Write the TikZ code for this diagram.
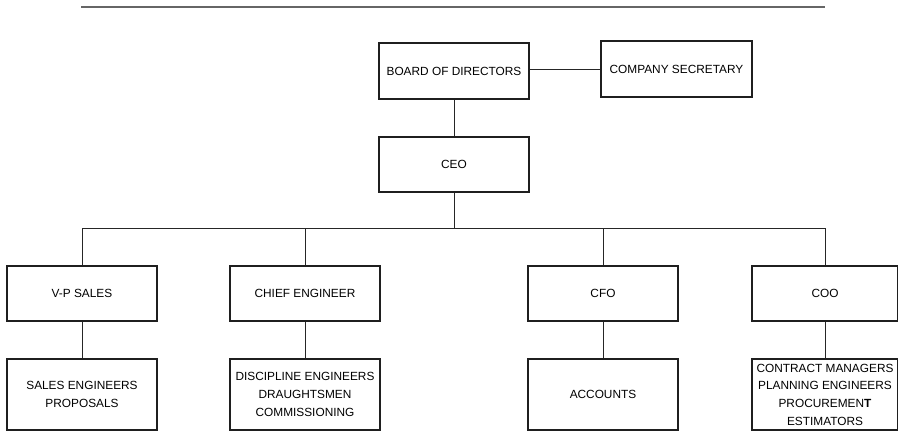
\documentclass[tikz,border=0pt]{standalone}
\usepackage{fontspec}
\setmainfont{Liberation Sans}
\begin{document}
\begin{tikzpicture}[x=1pt,y=-1pt,
  box/.style={draw=black!88, line width=2.4pt, minimum width=150pt, inner sep=0pt,
    align=center, font=\fontsize{11.85}{17.7}\selectfont},
  link/.style={line width=0.9pt, draw=black!85},
  rule/.style={line width=2pt, draw=black!60}]
\useasboundingbox (0,0) rectangle (898,432);
\coordinate (rl) at (81,7);
\coordinate (rr) at (825,7);
\draw[rule] (rl) -- (rr);
\node[box, minimum height=56pt] (board) at (454,71) {BOARD OF DIRECTORS};
\node[box, minimum height=56pt, minimum width=151pt] (sec) at (676.5,69) {COMPANY SECRETARY};
\node[box, minimum height=55pt] (ceo) at (454,164.5) {CEO};
\node[box, minimum height=55pt] (vp) at (82,293.5) {V-P SALES};
\node[box, minimum height=55pt] (chief) at (305,293.5) {CHIEF ENGINEER};
\node[box, minimum height=55pt] (cfo) at (603,293.5) {CFO};
\node[box, minimum height=55pt, minimum width=146pt] (coo) at (825,293.5) {COO};
\node[box, minimum height=71pt] (sales) at (82,394.5) {SALES ENGINEERS\\PROPOSALS};
\node[box, minimum height=71pt] (disc) at (305,394.5) {DISCIPLINE ENGINEERS\\DRAUGHTSMEN\\COMMISSIONING};
\node[box, minimum height=71pt] (acc) at (603,394.5) {ACCOUNTS};
\node[box, minimum height=71pt, minimum width=146pt] (ops) at (825,394.5) {CONTRACT MANAGERS\\PLANNING ENGINEERS\\PROCUREMEN\textbf{T}\\ESTIMATORS};
\draw[link] (board.south) -- (ceo.north);
\draw[link] (board.east |- sec.west) -- (sec.west);
\draw[link] (ceo.south) -- ++(0,35) coordinate (bus);
\draw[link] (vp.north) -- (vp.north |- bus) -- (coo.north |- bus) -- (coo.north);
\draw[link] (chief.north) -- (chief.north |- bus);
\draw[link] (cfo.north) -- (cfo.north |- bus);
\draw[link] (vp.south) -- (sales.north);
\draw[link] (chief.south) -- (disc.north);
\draw[link] (cfo.south) -- (acc.north);
\draw[link] (coo.south) -- (ops.north);
\end{tikzpicture}
\end{document}
